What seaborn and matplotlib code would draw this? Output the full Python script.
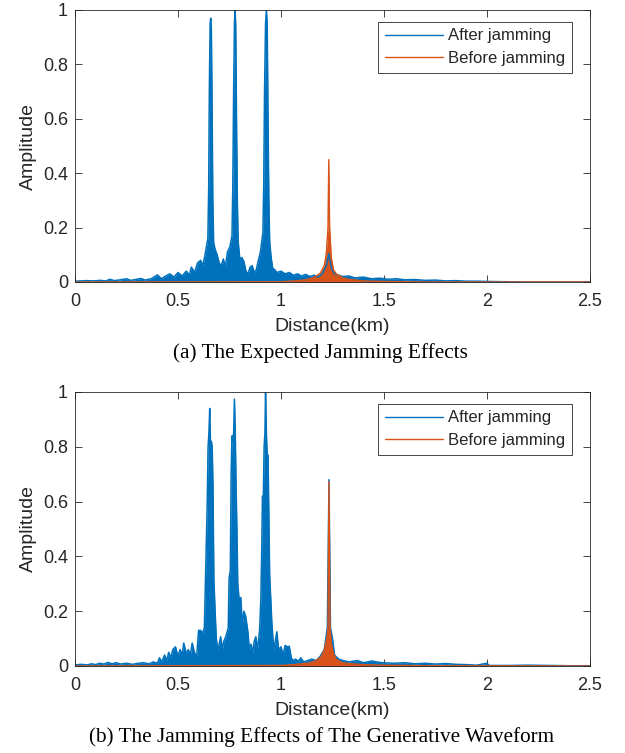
import numpy as np
import matplotlib
matplotlib.use("Agg")
import matplotlib.pyplot as plt
from matplotlib.ticker import FormatStrFormatter
import seaborn as sns

# (a) expected jamming effect - envelope
after_a_km = [0.00, 0.03, 0.06, 0.09, 0.12, 0.15, 0.17, 0.19, 0.22, 0.25, 0.27, 0.30, 0.32, 0.34,
              0.37, 0.40, 0.42, 0.44, 0.46, 0.48, 0.50, 0.52, 0.54, 0.555, 0.565, 0.58, 0.595,
              0.61, 0.62, 0.63, 0.638, 0.645, 0.649, 0.652, 0.656, 0.659, 0.662, 0.666, 0.669,
              0.673, 0.68, 0.69, 0.70, 0.71, 0.72, 0.73, 0.74, 0.752, 0.762, 0.766, 0.770, 0.774,
              0.777, 0.780, 0.784, 0.788, 0.792, 0.80, 0.81, 0.82, 0.83, 0.84, 0.85, 0.86, 0.87,
              0.88, 0.89, 0.90, 0.912, 0.916, 0.920, 0.925, 0.929, 0.933, 0.937, 0.941, 0.945,
              0.952, 0.96, 0.97, 0.98, 1.00, 1.02, 1.04, 1.06, 1.08, 1.10, 1.12, 1.14, 1.16, 1.18,
              1.20, 1.22, 1.232, 1.245, 1.26, 1.28, 1.30, 1.33, 1.36, 1.40, 1.44, 1.48, 1.52,
              1.56, 1.60, 1.65, 1.70, 1.75, 1.80, 1.85, 1.90, 1.95, 2.00, 2.10, 2.20, 2.50]
after_a_amp = [0.003, 0.004, 0.005, 0.004, 0.006, 0.004, 0.010, 0.005, 0.008, 0.012, 0.006, 0.010,
               0.013, 0.007, 0.012, 0.026, 0.012, 0.022, 0.030, 0.018, 0.035, 0.022, 0.040, 0.025,
               0.055, 0.035, 0.070, 0.080, 0.060, 0.095, 0.130, 0.160, 0.350, 0.700, 0.950, 0.970,
               0.930, 0.600, 0.300, 0.145, 0.120, 0.100, 0.070, 0.060, 0.085, 0.055, 0.110, 0.130,
               0.170, 0.350, 0.700, 0.950, 1.000, 0.950, 0.600, 0.300, 0.150, 0.085, 0.090, 0.075,
               0.040, 0.030, 0.055, 0.060, 0.035, 0.045, 0.080, 0.110, 0.180, 0.350, 0.700, 0.950,
               1.000, 0.950, 0.600, 0.300, 0.150, 0.090, 0.050, 0.045, 0.035, 0.040, 0.030, 0.035,
               0.025, 0.030, 0.022, 0.028, 0.020, 0.025, 0.018, 0.030, 0.060, 0.105, 0.050, 0.030,
               0.025, 0.020, 0.022, 0.015, 0.018, 0.012, 0.014, 0.010, 0.012, 0.008, 0.009, 0.006,
               0.007, 0.004, 0.005, 0.003, 0.003, 0.002, 0.001, 0.000, 0.000]
before_a_km = [0.00, 1.00, 1.08, 1.12, 1.16, 1.19, 1.21, 1.22, 1.228, 1.232, 1.236, 1.244, 1.255,
               1.268, 1.30, 1.33, 1.40, 1.50, 1.70, 2.50]
before_a_amp = [0.000, 0.001, 0.005, 0.008, 0.017, 0.032, 0.060, 0.105, 0.200, 0.450, 0.200, 0.090,
                0.045, 0.030, 0.015, 0.010, 0.004, 0.002, 0.000, 0.000]

# (b) generative waveform
after_b_km = [0.00, 0.03, 0.06, 0.08, 0.10, 0.12, 0.14, 0.16, 0.18, 0.20, 0.22, 0.25, 0.28, 0.30,
              0.33, 0.36, 0.38, 0.40, 0.41, 0.42, 0.435, 0.445, 0.455, 0.465, 0.475, 0.488, 0.50,
              0.51, 0.52, 0.528, 0.54, 0.55, 0.56, 0.569, 0.58, 0.59, 0.60, 0.61, 0.62, 0.628,
              0.632, 0.638, 0.642, 0.646, 0.650, 0.654, 0.658, 0.662, 0.666, 0.670, 0.674, 0.680,
              0.686, 0.693, 0.70, 0.707, 0.715, 0.722, 0.732, 0.740, 0.744, 0.748, 0.754, 0.758,
              0.762, 0.766, 0.770, 0.774, 0.778, 0.782, 0.786, 0.790, 0.797, 0.805, 0.812, 0.82,
              0.829, 0.84, 0.846, 0.854, 0.862, 0.870, 0.878, 0.886, 0.896, 0.902, 0.906, 0.910,
              0.914, 0.918, 0.922, 0.925, 0.929, 0.933, 0.937, 0.941, 0.945, 0.950, 0.956, 0.965,
              0.972, 0.980, 0.988, 1.000, 1.010, 1.020, 1.033, 1.040, 1.050, 1.057, 1.07, 1.085,
              1.096, 1.11, 1.13, 1.15, 1.17, 1.19, 1.21, 1.225, 1.233, 1.24, 1.25, 1.26, 1.28,
              1.30, 1.33, 1.37, 1.40, 1.44, 1.49, 1.55, 1.60, 1.65, 1.70, 1.75, 1.80, 1.85, 1.90,
              1.95, 2.00, 2.01, 2.10, 2.20, 2.30, 2.40, 2.50]
after_b_amp = [0.004, 0.006, 0.004, 0.008, 0.005, 0.010, 0.007, 0.013, 0.008, 0.012, 0.007, 0.010,
               0.006, 0.009, 0.012, 0.008, 0.015, 0.010, 0.030, 0.015, 0.040, 0.020, 0.050, 0.030,
               0.060, 0.070, 0.035, 0.060, 0.040, 0.084, 0.045, 0.060, 0.040, 0.084, 0.050, 0.030,
               0.130, 0.130, 0.120, 0.140, 0.270, 0.450, 0.600, 0.800, 0.850, 0.940, 0.800, 0.820,
               0.800, 0.650, 0.320, 0.200, 0.100, 0.060, 0.080, 0.107, 0.060, 0.090, 0.107, 0.130,
               0.140, 0.320, 0.350, 0.700, 0.840, 0.820, 0.850, 0.974, 0.850, 0.650, 0.500, 0.300,
               0.240, 0.250, 0.150, 0.200, 0.180, 0.120, 0.060, 0.080, 0.050, 0.090, 0.107, 0.060,
               0.130, 0.240, 0.400, 0.620, 0.600, 0.800, 0.850, 1.000, 0.850, 0.770, 0.770, 0.550,
               0.330, 0.250, 0.150, 0.060, 0.090, 0.125, 0.060, 0.070, 0.040, 0.075, 0.070, 0.072,
               0.030, 0.020, 0.025, 0.018, 0.030, 0.015, 0.020, 0.025, 0.020, 0.035, 0.060, 0.140,
               0.680, 0.140, 0.100, 0.040, 0.025, 0.020, 0.015, 0.020, 0.012, 0.018, 0.012, 0.010,
               0.012, 0.008, 0.010, 0.007, 0.009, 0.006, 0.005, 0.003, 0.010, 0.002, 0.002, 0.003,
               0.002, 0.001, 0.001]
before_b_km = [0.00, 1.00, 1.06, 1.10, 1.14, 1.17, 1.195, 1.21, 1.222, 1.228, 1.233, 1.238, 1.244,
               1.255, 1.268, 1.30, 1.33, 1.40, 1.50, 1.70, 2.50]
before_b_amp = [0.000, 0.002, 0.005, 0.008, 0.012, 0.020, 0.034, 0.060, 0.100, 0.139, 0.673, 0.140,
                0.083, 0.045, 0.024, 0.012, 0.009, 0.005, 0.003, 0.001, 0.000]

x_ticks = [0, 0.5, 1, 1.5, 2, 2.5]
y_ticks = [0, 0.2, 0.4, 0.6, 0.8, 1]
captions = ["(a) The Expected Jamming Effects",
            "(b) The Jamming Effects of The Generative Waveform"]

blue = "#0072BD"
orange = "#D95319"
axis_col = "#262626"

sns.set_theme(style="ticks")
plt.rcParams['font.family'] = ['Liberation Sans', 'DejaVu Sans']

fig = plt.figure(figsize=(6.25, 7.53), dpi=100)
ax_a = fig.add_axes([75 / 625, 1 - 282 / 753, 515 / 625, 272 / 753])
ax_b = fig.add_axes([75 / 625, 1 - 666 / 753, 515 / 625, 274 / 753])

panels = [
    (ax_a, after_a_km, after_a_amp, before_a_km, before_a_amp),
    (ax_b, after_b_km, after_b_amp, before_b_km, before_b_amp),
]

for ax, ak, aa, bk, ba in panels:
    ax.fill_between(ak, 0, aa, color=blue, linewidth=0)
    sns.lineplot(x=ak, y=aa, ax=ax, color=blue, linewidth=1.1, label="After jamming")
    ax.fill_between(bk, 0, ba, color=orange, linewidth=0)
    sns.lineplot(x=bk, y=ba, ax=ax, color=orange, linewidth=1.0, label="Before jamming")

    ax.set_xlim(0, 2.5)
    ax.set_ylim(0, 1)
    ax.set_xticks(x_ticks)
    ax.set_yticks(y_ticks)
    ax.xaxis.set_major_formatter(FormatStrFormatter('%g'))
    ax.yaxis.set_major_formatter(FormatStrFormatter('%g'))
    ax.tick_params(direction='in', top=True, right=True, length=5, width=0.6,
                   colors=axis_col, labelsize=13)
    ax.tick_params(axis='x', pad=8)
    ax.tick_params(axis='y', pad=5)
    for sp in ax.spines.values():
        sp.set_visible(True)
        sp.set_linewidth(0.6)
        sp.set_color(axis_col)
    ax.set_xlabel("Distance(km)", fontsize=14, color=axis_col, labelpad=6)
    ax.set_ylabel("Amplitude", fontsize=14, color=axis_col, labelpad=4)

    leg = ax.legend(loc="upper right", bbox_to_anchor=(0.965, 0.957), borderaxespad=0,
                    fontsize=12, fancybox=False, framealpha=1, edgecolor=axis_col,
                    handlelength=3.5, handletextpad=0.3, borderpad=0.4, labelspacing=0.45)
    leg.get_frame().set_linewidth(0.6)
    for line in leg.get_lines():
        line.set_linewidth(1.0)

fig.text(320 / 625, 1 - 353 / 753, captions[0], ha='center', va='center',
         fontsize=15.3, family=['Liberation Serif', 'DejaVu Serif'], color='black')
fig.text(322 / 625, 1 - 737 / 753, captions[1], ha='center', va='center',
         fontsize=15.3, family=['Liberation Serif', 'DejaVu Serif'], color='black')

fig.savefig("out.png", dpi=100)
